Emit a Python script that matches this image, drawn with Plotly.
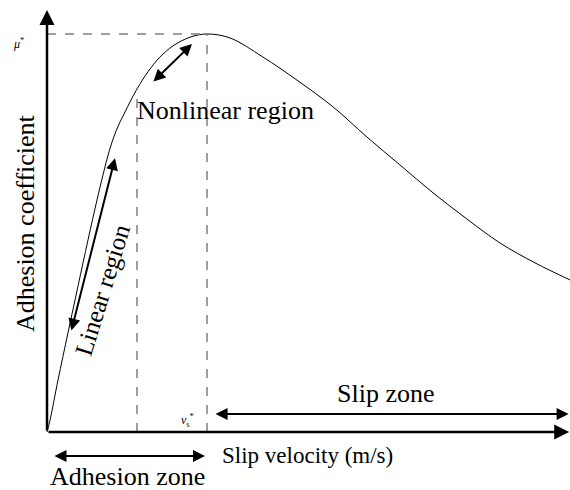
import plotly.graph_objects as go

# Adhesion characteristic (normalised: v_s* = 1, mu* = 1)
slip_velocity = [0, 0.019, 0.069, 0.131, 0.194, 0.256, 0.3125, 0.35, 0.3875, 0.431, 0.4875,
                 0.5625, 0.631, 0.706, 0.7875, 0.894, 1.0,
                 1.144, 1.35, 1.5625, 1.7875, 2.0, 2.206, 2.4125, 2.625, 2.831, 3.05, 3.269]
adhesion_coef = [0, 0.030, 0.131, 0.249, 0.367, 0.482, 0.583, 0.646, 0.704, 0.756, 0.804,
                 0.862, 0.905, 0.942, 0.970, 0.992, 1.0,
                 0.990, 0.942, 0.884, 0.817, 0.741, 0.671, 0.601, 0.535, 0.475, 0.425, 0.382]

v_peak = 1.0          # v_s*
mu_peak = 1.0         # mu*
v_linear_end = 0.5625 # boundary between linear and nonlinear region
x_range = [-0.29375, 3.26875]
y_range = [-0.1457, 1.0854]

FONT = "Liberation Serif, Times New Roman, serif"

fig = go.Figure()
fig.add_trace(go.Scatter(x=slip_velocity, y=adhesion_coef, mode="lines",
                         line=dict(color="black", width=1, shape="spline", smoothing=1),
                         hoverinfo="skip", showlegend=False))

dash = dict(color="#808080", width=1.5, dash="dash")
fig.add_shape(type="line", x0=0, x1=v_peak, y0=mu_peak, y1=mu_peak, line=dash)
fig.add_shape(type="line", x0=v_peak, x1=v_peak, y0=0, y1=mu_peak, line=dash)
fig.add_shape(type="line", x0=v_linear_end, x1=v_linear_end, y0=0, y1=0.864, line=dash)

def arrow(x, y, ax, ay, both=False, width=2):
    fig.add_annotation(x=x, y=y, ax=ax, ay=ay, xref="x", yref="y", axref="x", ayref="y",
                       text="", showarrow=True, arrowhead=2, arrowsize=1.2,
                       arrowwidth=width, arrowcolor="black",
                       arrowside="end+start" if both else "end")

# axes with arrowheads
arrow(0, 1.060, 0, 0, width=2.5)
arrow(x_range[1] - 0.005, 0, 0, 0, width=2.5)
# zone arrows
arrow(3.26, 0.045, 1.044, 0.045, both=True)
arrow(0.9875, -0.060, 0.0375, -0.060, both=True)
# region arrows
arrow(0.906, 0.975, 0.656, 0.877, both=True)
arrow(0.425, 0.688, 0.15, 0.251, both=True)

def label(text, x, y, size, angle=0):
    fig.add_annotation(x=x, y=y, xref="x", yref="y", text=text, showarrow=False,
                       textangle=angle, xanchor="center", yanchor="middle",
                       font=dict(family=FONT, size=size, color="black"))

label("Nonlinear region", 1.1125, 0.809, 26)
label("Linear region", 0.35, 0.357, 25, angle=-73)
label("Slip zone", 2.119, 0.098, 26)
label("Slip velocity (m/s)", 1.625, -0.058, 23)
label("Adhesion zone", 0.506, -0.113, 26)
label("Adhesion coefficient", -0.1375, 0.525, 26, angle=-90)
label("<i>μ</i><sup>*</sup>", -0.18, 0.975, 12)
label("<i>v</i><sub>s</sub><sup>*</sup>", 0.875, 0.03, 12)

fig.update_layout(
    width=570, height=490,
    margin=dict(l=0, r=0, t=0, b=0),
    paper_bgcolor="white", plot_bgcolor="white",
    xaxis=dict(range=x_range, visible=False, fixedrange=True),
    yaxis=dict(range=y_range, visible=False, fixedrange=True),
    showlegend=False,
)
fig.write_html("out.html")
